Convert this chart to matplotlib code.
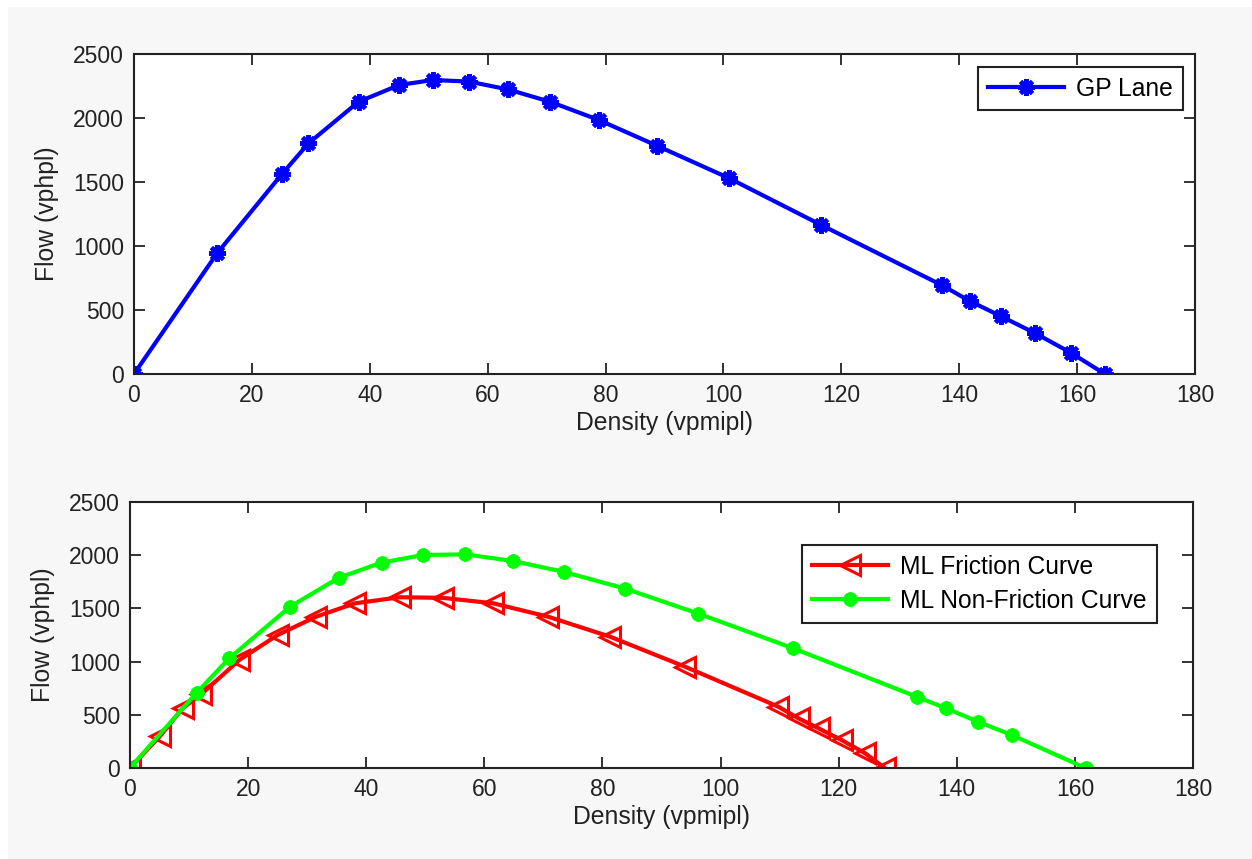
import matplotlib.pyplot as plt
from matplotlib.patches import Rectangle

plt.rcParams['font.family'] = ['Liberation Sans', 'DejaVu Sans']

# GP lane flow-density points
gp_density = [0, 14.1, 25.1, 29.6, 38.1, 45.0, 50.7, 56.8, 63.4, 70.6, 78.9,
              88.7, 101.0, 116.5, 137.0, 141.8, 147.0, 152.9, 158.9, 164.7]
gp_flow = [0, 943, 1562, 1802, 2127, 2258, 2297, 2285, 2224, 2127, 1984,
           1784, 1529, 1166, 695, 570, 453, 318, 167, 0]

# managed lane, friction curve
fr_density = [0, 5.1, 8.9, 12.1, 18.5, 25.0, 31.5, 38.1, 45.7, 53.0, 61.5,
              70.8, 81.3, 94.0, 109.8, 113.2, 116.6, 120.5, 124.5, 127.8]
fr_flow = [0, 300, 560, 695, 1015, 1250, 1422, 1548, 1605, 1599, 1548,
           1422, 1234, 952, 576, 467, 373, 263, 138, 0]

# managed lane, non-friction curve
nf_density = [0, 11.3, 16.8, 27.1, 35.4, 42.6, 49.6, 56.8, 64.8, 73.5,
              83.8, 96.2, 112.3, 133.2, 138.2, 143.6, 149.3, 161.8]
nf_flow = [0, 708, 1031, 1516, 1789, 1930, 2002, 2008, 1946, 1843,
           1687, 1452, 1125, 670, 561, 435, 310, 0]

xticks = [0, 20, 40, 60, 80, 100, 120, 140, 160, 180]
yticks = [0, 500, 1000, 1500, 2000, 2500]

fig = plt.figure(figsize=(12.52, 8.59), dpi=100, facecolor='white')
fig.patches.append(Rectangle((8 / 1252, 0), 1, 1 - 7 / 859, transform=fig.transFigure,
                             facecolor='#f7f7f7', edgecolor='none', zorder=-10))

ax1 = fig.add_axes([0.1070, 0.5646, 0.8475, 0.3725])
ax2 = fig.add_axes([0.1038, 0.1059, 0.8491, 0.3097])

ax1.plot(gp_density, gp_flow, color='#0000ff', lw=3, marker=(8, 2, 0),
         ms=12, mew=3, label='GP Lane')
ax2.plot(fr_density, fr_flow, color='#ff0000', lw=3, marker='<', ms=15,
         mew=2.2, mfc='none', label='ML Friction Curve')
ax2.plot(nf_density, nf_flow, color='#00ff00', lw=3, marker=(8, 2, 0),
         ms=10, mew=3, label='ML Non-Friction Curve')

for ax in (ax1, ax2):
    ax.set_xlim(0, 180)
    ax.set_ylim(0, 2500)
    ax.set_xticks(xticks)
    ax.set_yticks(yticks)
    ax.tick_params(direction='in', length=8, width=1.3, top=True, right=True,
                   labelsize=16.5, pad=7, colors='#222222')
    for s in ax.spines.values():
        s.set_linewidth(1.5)
        s.set_color('#222222')
    ax.set_xlabel('Density (vpmipl)', fontsize=17.8, labelpad=3, color='#222222')
    ax.set_ylabel('Flow (vphpl)', fontsize=17.8, labelpad=10, color='#222222')

leg_kw = dict(fontsize=17.7, fancybox=False, framealpha=1, edgecolor='#222222',
              handlelength=3.1, borderaxespad=0, labelspacing=0.4,
              borderpad=0.4, handletextpad=0.5)
l1 = ax1.legend(loc='upper right', bbox_to_anchor=(0.9887, 0.9603), **leg_kw)
l2 = ax2.legend(loc='upper right', bbox_to_anchor=(0.9659, 0.8383), **leg_kw)
for l in (l1, l2):
    l.get_frame().set_linewidth(1.5)

fig.savefig('out.png', dpi=100, facecolor=fig.get_facecolor())
